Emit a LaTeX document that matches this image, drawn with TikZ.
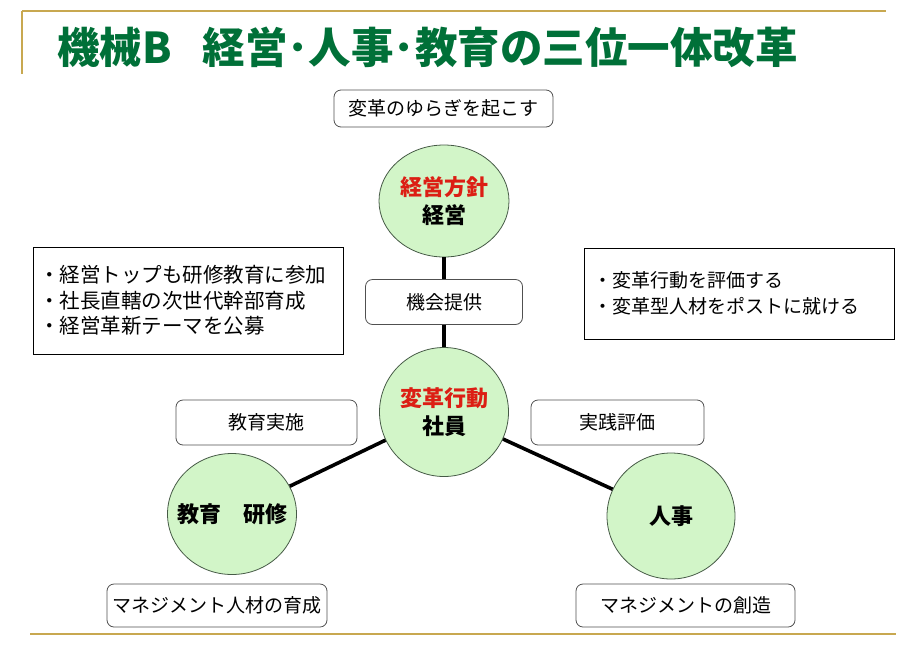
\documentclass[tikz,border=0pt]{standalone}
\usepackage{fontspec}
\usetikzlibrary{shapes.geometric}
\setmainfont{Noto Sans CJK JP}
\begin{document}
\begin{tikzpicture}[x=1pt,y=-1pt,
  every node/.style={inner sep=0pt},
  gold/.style={draw={rgb,255:red,200;green,168;blue,80}},
  circ/.style={ellipse,draw={rgb,255:red,70;green,90;blue,70},line width=0.8pt,fill={rgb,255:red,210;green,245;blue,200}},
  ctext/.style={align=center,font=\fontsize{22}{28}\selectfont\bfseries},
  rbox/.style={draw={rgb,255:red,80;green,80;blue,80},line width=0.8pt,rounded corners=7pt,fill=white,font=\fontsize{19}{24}\selectfont},
  sbox/.style={draw=black,line width=0.8pt,fill=white,align=left,font=\fontsize{19}{25.5}\selectfont},
  conn/.style={line width=3.6pt,draw=black}]
\useasboundingbox (0,0) rectangle (923,659);
\definecolor{titlegreen}{RGB}{0,112,56}
\definecolor{redtxt}{RGB}{220,30,20}
% decorative rules
\draw[gold,line width=2pt] (22,11) -- (886,11);
\draw[gold,line width=2pt] (22,11) -- (22,74);
\draw[gold,line width=2.5pt] (30,634) -- (896,634);
% title
\node[anchor=west,text=titlegreen,font=\fontsize{42.5}{46}\selectfont\bfseries] (title) at (57,47) {機械B\hspace{31pt}経営･人事･教育の三位一体改革};
% circles
\node[circ,minimum width=130pt,minimum height=112pt] (top) at (444,201) {};
\node[circ,minimum width=129pt,minimum height=129pt] (mid) at (444,412) {};
\node[circ,minimum width=129pt,minimum height=121pt] (left) at (232,514) {};
\node[circ,minimum width=128pt,minimum height=126pt] (right) at (671,516) {};
\node[ctext] (topt) at (top) {\textcolor{redtxt}{経営方針}\\経営};
\node[ctext] (midt) at (mid) {\textcolor{redtxt}{変革行動}\\社員};
\node[ctext] (leftt) at (left) {教育　研修};
\node[ctext] (rightt) at (right) {人事};
% boxes
\node[rbox,minimum width=219pt,minimum height=37pt] (yuragi) at (443.5,108.5) {変革のゆらぎを起こす};
\node[rbox,minimum width=157pt,minimum height=45pt] (kikai) at (444,302) {機会提供};
\node[rbox,minimum width=181pt,minimum height=45pt] (kyoiku) at (266.5,422.5) {教育実施};
\node[rbox,minimum width=173pt,minimum height=45pt] (jissen) at (617.5,422.5) {実践評価};
\node[rbox,minimum width=220pt,minimum height=43pt] (ikusei) at (217,605.5) {マネジメント人材の育成};
\node[rbox,minimum width=219pt,minimum height=43pt] (sozo) at (685.5,605.5) {マネジメントの創造};
% connectors
\draw[conn] (top) -- (kikai);
\draw[conn] (kikai) -- (mid);
\draw[conn] (mid) -- (left);
\draw[conn] (mid) -- (right);
% square boxes
\node[sbox,minimum width=310pt,minimum height=107pt,text width=298pt,font=\fontsize{20.5}{25.5}\selectfont] (leftlist) at (188,300.5) {・経営トップも研修教育に参加\\・社長直轄の次世代幹部育成\\・経営革新テーマを公募};
\node[sbox,minimum width=310pt,minimum height=91pt,text width=292pt] (rightlist) at (739,293.5) {・変革行動を評価する\\・変革型人材をポストに就ける};
\end{tikzpicture}
\end{document}
